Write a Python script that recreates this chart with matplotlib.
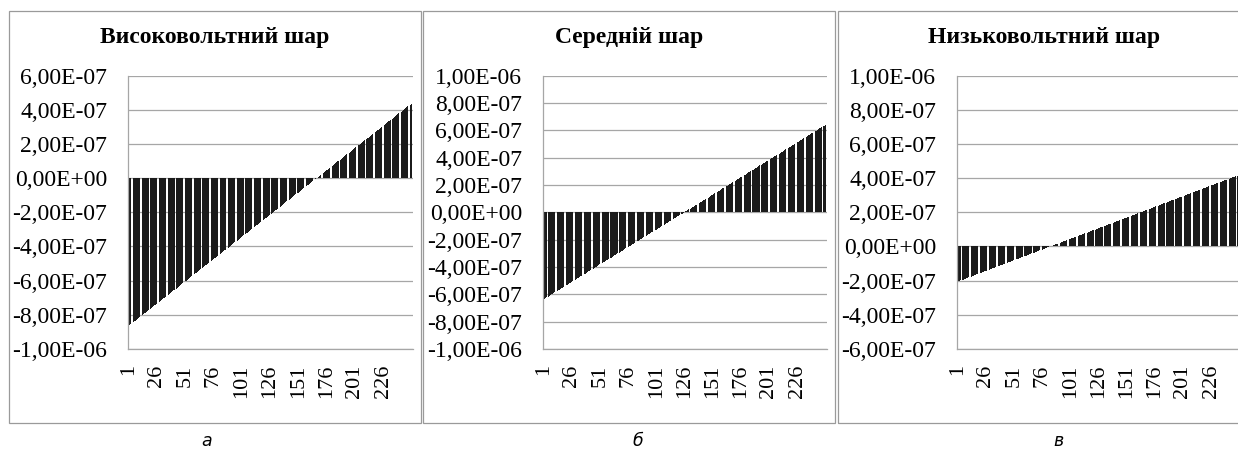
import numpy as np
import matplotlib
matplotlib.use("Agg")
import matplotlib.pyplot as plt
from matplotlib.patches import Rectangle

# Bar heights, in units of 1e-7, one value per category 1..251
high_layer = [
    -8.65, -8.60, -8.55, -8.49, -8.44, -8.39, -8.34, -8.29, -8.23, -8.18,
    -8.13, -8.08, -8.03, -7.97, -7.92, -7.87, -7.82, -7.77, -7.71, -7.66,
    -7.61, -7.56, -7.51, -7.45, -7.40, -7.35, -7.30, -7.25, -7.19, -7.14,
    -7.09, -7.04, -6.99, -6.93, -6.88, -6.83, -6.78, -6.73, -6.67, -6.62,
    -6.57, -6.52, -6.47, -6.41, -6.36, -6.31, -6.26, -6.21, -6.15, -6.10,
    -6.05, -6.00, -5.95, -5.89, -5.84, -5.79, -5.74, -5.69, -5.63, -5.58,
    -5.53, -5.48, -5.43, -5.37, -5.32, -5.27, -5.22, -5.17, -5.11, -5.06,
    -5.01, -4.96, -4.91, -4.85, -4.80, -4.75, -4.70, -4.65, -4.59, -4.54,
    -4.49, -4.44, -4.39, -4.33, -4.28, -4.23, -4.18, -4.13, -4.07, -4.02,
    -3.97, -3.92, -3.87, -3.81, -3.76, -3.71, -3.66, -3.61, -3.55, -3.50,
    -3.45, -3.40, -3.35, -3.29, -3.24, -3.19, -3.14, -3.09, -3.03, -2.98,
    -2.93, -2.88, -2.83, -2.77, -2.72, -2.67, -2.62, -2.57, -2.51, -2.46,
    -2.41, -2.36, -2.31, -2.25, -2.20, -2.15, -2.10, -2.05, -1.99, -1.94,
    -1.89, -1.84, -1.79, -1.73, -1.68, -1.63, -1.58, -1.53, -1.47, -1.42,
    -1.37, -1.32, -1.27, -1.21, -1.16, -1.11, -1.06, -1.01, -0.95, -0.90,
    -0.85, -0.80, -0.75, -0.69, -0.64, -0.59, -0.54, -0.49, -0.43, -0.38,
    -0.33, -0.28, -0.23, -0.17, -0.12, -0.07, -0.02, 0.03, 0.09, 0.14,
    0.19, 0.24, 0.29, 0.35, 0.40, 0.45, 0.50, 0.55, 0.61, 0.66,
    0.71, 0.76, 0.81, 0.87, 0.92, 0.97, 1.02, 1.07, 1.13, 1.18,
    1.23, 1.28, 1.33, 1.39, 1.44, 1.49, 1.54, 1.59, 1.65, 1.70,
    1.75, 1.80, 1.85, 1.91, 1.96, 2.01, 2.06, 2.11, 2.17, 2.22,
    2.27, 2.32, 2.37, 2.43, 2.48, 2.53, 2.58, 2.63, 2.69, 2.74,
    2.79, 2.84, 2.89, 2.95, 3.00, 3.05, 3.10, 3.15, 3.21, 3.26,
    3.31, 3.36, 3.41, 3.47, 3.52, 3.57, 3.62, 3.67, 3.73, 3.78,
    3.83, 3.88, 3.93, 3.99, 4.04, 4.09, 4.14, 4.19, 4.25, 4.30,
    4.35,
]

middle_layer = [
    -6.370, -6.319, -6.268, -6.217, -6.166, -6.115, -6.064, -6.013, -5.962, -5.911,
    -5.860, -5.809, -5.758, -5.707, -5.656, -5.605, -5.554, -5.503, -5.452, -5.401,
    -5.350, -5.299, -5.248, -5.197, -5.146, -5.095, -5.044, -4.993, -4.942, -4.891,
    -4.840, -4.789, -4.738, -4.687, -4.636, -4.585, -4.534, -4.483, -4.432, -4.381,
    -4.330, -4.279, -4.228, -4.177, -4.126, -4.075, -4.024, -3.973, -3.922, -3.871,
    -3.820, -3.769, -3.718, -3.667, -3.616, -3.565, -3.514, -3.463, -3.412, -3.361,
    -3.310, -3.259, -3.208, -3.157, -3.106, -3.055, -3.004, -2.953, -2.902, -2.851,
    -2.800, -2.749, -2.698, -2.647, -2.596, -2.545, -2.494, -2.443, -2.392, -2.341,
    -2.290, -2.239, -2.188, -2.137, -2.086, -2.035, -1.984, -1.933, -1.882, -1.831,
    -1.780, -1.729, -1.678, -1.627, -1.576, -1.525, -1.474, -1.423, -1.372, -1.321,
    -1.270, -1.219, -1.168, -1.117, -1.066, -1.015, -0.964, -0.913, -0.862, -0.811,
    -0.760, -0.709, -0.658, -0.607, -0.556, -0.505, -0.454, -0.403, -0.352, -0.301,
    -0.250, -0.199, -0.148, -0.097, -0.046, 0.005, 0.056, 0.107, 0.158, 0.209,
    0.260, 0.311, 0.362, 0.413, 0.464, 0.515, 0.566, 0.617, 0.668, 0.719,
    0.770, 0.821, 0.872, 0.923, 0.974, 1.025, 1.076, 1.127, 1.178, 1.229,
    1.280, 1.331, 1.382, 1.433, 1.484, 1.535, 1.586, 1.637, 1.688, 1.739,
    1.790, 1.841, 1.892, 1.943, 1.994, 2.045, 2.096, 2.147, 2.198, 2.249,
    2.300, 2.351, 2.402, 2.453, 2.504, 2.555, 2.606, 2.657, 2.708, 2.759,
    2.810, 2.861, 2.912, 2.963, 3.014, 3.065, 3.116, 3.167, 3.218, 3.269,
    3.320, 3.371, 3.422, 3.473, 3.524, 3.575, 3.626, 3.677, 3.728, 3.779,
    3.830, 3.881, 3.932, 3.983, 4.034, 4.085, 4.136, 4.187, 4.238, 4.289,
    4.340, 4.391, 4.442, 4.493, 4.544, 4.595, 4.646, 4.697, 4.748, 4.799,
    4.850, 4.901, 4.952, 5.003, 5.054, 5.105, 5.156, 5.207, 5.258, 5.309,
    5.360, 5.411, 5.462, 5.513, 5.564, 5.615, 5.666, 5.717, 5.768, 5.819,
    5.870, 5.921, 5.972, 6.023, 6.074, 6.125, 6.176, 6.227, 6.278, 6.329,
    6.380,
]

low_layer = [
    -2.060, -2.035, -2.010, -1.985, -1.960, -1.935, -1.910, -1.885,
    -1.860, -1.835, -1.810, -1.785, -1.760, -1.735, -1.710, -1.685,
    -1.660, -1.635, -1.610, -1.585, -1.560, -1.535, -1.510, -1.485,
    -1.460, -1.435, -1.410, -1.385, -1.360, -1.335, -1.310, -1.285,
    -1.260, -1.235, -1.210, -1.185, -1.160, -1.135, -1.110, -1.085,
    -1.060, -1.035, -1.010, -0.985, -0.960, -0.935, -0.910, -0.885,
    -0.860, -0.835, -0.810, -0.785, -0.760, -0.735, -0.710, -0.685,
    -0.660, -0.635, -0.610, -0.585, -0.560, -0.535, -0.510, -0.485,
    -0.460, -0.435, -0.410, -0.385, -0.360, -0.335, -0.310, -0.285,
    -0.260, -0.235, -0.210, -0.185, -0.160, -0.135, -0.110, -0.085,
    -0.060, -0.035, -0.010, 0.015, 0.040, 0.065, 0.090, 0.115,
    0.140, 0.165, 0.190, 0.215, 0.240, 0.265, 0.290, 0.315,
    0.340, 0.365, 0.390, 0.415, 0.440, 0.465, 0.490, 0.515,
    0.540, 0.565, 0.590, 0.615, 0.640, 0.665, 0.690, 0.715,
    0.740, 0.765, 0.790, 0.815, 0.840, 0.865, 0.890, 0.915,
    0.940, 0.965, 0.990, 1.015, 1.040, 1.065, 1.090, 1.115,
    1.140, 1.165, 1.190, 1.215, 1.240, 1.265, 1.290, 1.315,
    1.340, 1.365, 1.390, 1.415, 1.440, 1.465, 1.490, 1.515,
    1.540, 1.565, 1.590, 1.615, 1.640, 1.665, 1.690, 1.715,
    1.740, 1.765, 1.790, 1.815, 1.840, 1.865, 1.890, 1.915,
    1.940, 1.965, 1.990, 2.015, 2.040, 2.065, 2.090, 2.115,
    2.140, 2.165, 2.190, 2.215, 2.240, 2.265, 2.290, 2.315,
    2.340, 2.365, 2.390, 2.415, 2.440, 2.465, 2.490, 2.515,
    2.540, 2.565, 2.590, 2.615, 2.640, 2.665, 2.690, 2.715,
    2.740, 2.765, 2.790, 2.815, 2.840, 2.865, 2.890, 2.915,
    2.940, 2.965, 2.990, 3.015, 3.040, 3.065, 3.090, 3.115,
    3.140, 3.165, 3.190, 3.215, 3.240, 3.265, 3.290, 3.315,
    3.340, 3.365, 3.390, 3.415, 3.440, 3.465, 3.490, 3.515,
    3.540, 3.565, 3.590, 3.615, 3.640, 3.665, 3.690, 3.715,
    3.740, 3.765, 3.790, 3.815, 3.840, 3.865, 3.890, 3.915,
    3.940, 3.965, 3.990, 4.015, 4.040, 4.065, 4.090, 4.115,
    4.140, 4.165, 4.190,
]

titles = ["Високовольтний шар", "Середній шар", "Низьковольтний шар"]
captions = ["а", "б", "в"]
x_ticks = [1, 26, 51, 76, 101, 126, 151, 176, 201, 226]
# y axis ranges and ticks, units of 1e-7
y_ranges = [(-10, 6), (-10, 10), (-6, 10)]

W, H = 1238, 449
fig = plt.figure(figsize=(W / 100, H / 100), dpi=100)

# pixel layout: panel frame (x0, x1), axes (left, right), caption x
frames = [(9, 421), (423, 835), (838, 1250)]
axes_px = [(128, 413), (543, 827), (957, 1241)]
caption_x = [207, 638, 1058]
ax_top, ax_bottom = 75.5, 349

serif = "Liberation Serif"
grid_color = "#a6a6a6"

for i, values in enumerate([high_layer, middle_layer, low_layer]):
    # panel frame
    fx0, fx1 = frames[i]
    fig.add_artist(Rectangle((fx0 / W, 1 - 422.5 / H), (fx1 - fx0) / W, (422.5 - 10.5) / H,
                             transform=fig.transFigure, fill=False,
                             edgecolor="#9a9a9a", linewidth=0.9))

    l, r = axes_px[i]
    ax = fig.add_axes([l / W, 1 - ax_bottom / H, (r - l) / W, (ax_bottom - ax_top) / H])

    cats = np.arange(1, len(values) + 1)
    heights = np.array(values) * 1e-7
    ax.bar(cats, heights, width=0.8, color="#1b1b1b", linewidth=0, antialiased=False)

    lo, hi = y_ranges[i]
    yt = np.arange(lo, hi + 1, 2) * 1e-7
    ax.set_ylim(lo * 1e-7, hi * 1e-7)
    ax.set_yticks(yt)
    ax.set_yticklabels([f"{v:.2E}".replace(".", ",") for v in yt])
    ax.set_xlim(0.5, 252.5)
    ax.set_xticks(x_ticks)
    ax.set_xticklabels([str(t) for t in x_ticks], rotation=90)

    ax.set_axisbelow(True)
    ax.yaxis.grid(True, color=grid_color, linewidth=0.9)
    ax.tick_params(length=0)
    ax.tick_params(axis="y", pad=15, labelsize=17, labelfontfamily=serif)
    ax.tick_params(axis="x", pad=11, labelsize=16, labelfontfamily=serif)
    for s in ["top", "right"]:
        ax.spines[s].set_visible(False)
    for s in ["left", "bottom"]:
        ax.spines[s].set_color(grid_color)
        ax.spines[s].set_linewidth(0.9)

    fig.text((fx0 + fx1) / 2 / W, 1 - 37 / H, titles[i], ha="center", va="center",
             fontsize=17, fontweight="bold", family=serif)
    fig.text(caption_x[i] / W, 1 - 441 / H, captions[i], ha="center", va="center",
             fontsize=12.5, style="italic", family="DejaVu Sans")

fig.savefig("out.png", dpi=100)
